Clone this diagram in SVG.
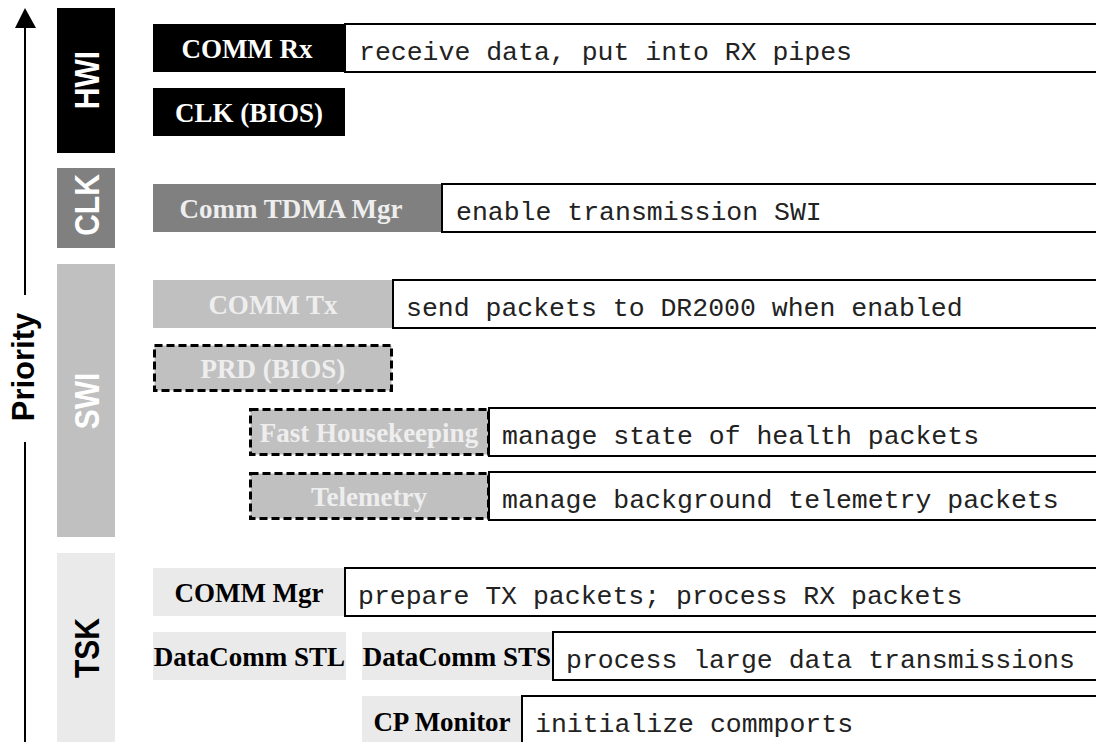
<svg xmlns="http://www.w3.org/2000/svg" width="1096" height="742" viewBox="0 0 1096 742">
  <style>
    .band-label { font-family: "Liberation Sans", Arial, sans-serif; font-weight: bold; font-size: 30px; text-anchor: middle; }
    .axis-label { font-family: "Liberation Sans", Arial, sans-serif; font-weight: bold; font-size: 31px; text-anchor: middle; fill: #000; }
    .task { font-family: "Liberation Serif", "Times New Roman", serif; font-weight: bold; font-size: 27px; text-anchor: middle; }
    .desc-box { fill: #fff; stroke: #000; stroke-width: 2; }
    .desc { font-family: "Liberation Mono", "Courier New", monospace; font-size: 26.5px; fill: #222; }
    .hwi { fill: #000; }
    .clk { fill: #808080; }
    .swi { fill: #c0c0c0; }
    .tsk { fill: #eaeaea; }
    .periodic { stroke: #000; stroke-width: 3; stroke-dasharray: 8 4; }
    .light { fill: #ffffff; }
    .pale { fill: #eeeeee; }
    .dark { fill: #000; }
  </style>

  <rect width="1096" height="742" fill="#fff"/>

  <!-- priority axis -->
  <g id="connectors">
    <line x1="25" y1="26" x2="25" y2="295" stroke="#000" stroke-width="2"/>
    <line x1="25" y1="442" x2="25" y2="742" stroke="#000" stroke-width="2"/>
    <polygon points="25,8 15,28 36,28" fill="#000"/>
    <text class="axis-label" transform="translate(34,367) rotate(-90)">Priority</text>
  </g>

  <!-- priority bands -->
  <g id="band-hwi">
    <rect x="57" y="8" width="58" height="145" class="hwi"/>
    <text class="band-label light" transform="translate(99,80) rotate(-90) scale(1,1.16)">HWI</text>
  </g>
  <g id="band-clk">
    <rect x="57" y="168" width="58" height="80" class="clk"/>
    <text class="band-label light" transform="translate(99,205) rotate(-90) scale(1,1.16)">CLK</text>
  </g>
  <g id="band-swi">
    <rect x="57" y="264" width="58" height="273" class="swi"/>
    <text class="band-label light" transform="translate(99,401) rotate(-90) scale(1,1.16)">SWI</text>
  </g>
  <g id="band-tsk">
    <rect x="57" y="553" width="58" height="189" class="tsk"/>
    <text class="band-label dark" transform="translate(99,648) rotate(-90) scale(1,1.16)">TSK</text>
  </g>

  <!-- HWI -->
  <g id="comm-rx">
    <rect x="153" y="24" width="192" height="48" class="hwi"/>
    <text x="247" y="58" class="task light">COMM Rx</text>
    <rect x="345" y="24" width="760" height="48" class="desc-box"/>
    <text x="359" y="59.5" class="desc">receive data, put into RX pipes</text>
  </g>
  <g id="clk-bios">
    <rect x="153" y="88" width="192" height="48" class="hwi"/>
    <text x="249" y="122" class="task light">CLK (BIOS)</text>
  </g>

  <!-- CLK -->
  <g id="comm-tdma-mgr">
    <rect x="153" y="184" width="289" height="48" class="clk"/>
    <text x="291" y="218" class="task pale">Comm TDMA Mgr</text>
    <rect x="442" y="184" width="660" height="48" class="desc-box"/>
    <text x="456" y="219.5" class="desc">enable transmission SWI</text>
  </g>

  <!-- SWI -->
  <g id="comm-tx">
    <rect x="153" y="280" width="240" height="48" class="swi"/>
    <text x="273" y="313.5" class="task pale">COMM Tx</text>
    <rect x="393" y="280" width="710" height="48" class="desc-box"/>
    <text x="406" y="315.5" class="desc">send packets to DR2000 when enabled</text>
  </g>
  <g id="prd-bios">
    <rect x="154.5" y="345.5" width="237" height="45" class="swi periodic"/>
    <text x="273" y="378" class="task pale">PRD (BIOS)</text>
  </g>
  <g id="fast-housekeeping">
    <rect x="250.5" y="409.5" width="238" height="45" class="swi periodic"/>
    <text x="369" y="441.5" class="task pale">Fast Housekeeping</text>
    <rect x="489" y="408" width="615" height="48" class="desc-box"/>
    <text x="502" y="443.5" class="desc">manage state of health packets</text>
  </g>
  <g id="telemetry">
    <rect x="250.5" y="473.5" width="238" height="45" class="swi periodic"/>
    <text x="369" y="505.5" class="task pale">Telemetry</text>
    <rect x="489" y="472" width="615" height="48" class="desc-box"/>
    <text x="502" y="507.5" class="desc">manage background telemetry packets</text>
  </g>

  <!-- TSK -->
  <g id="comm-mgr">
    <rect x="153" y="568" width="192" height="48" class="tsk"/>
    <text x="249" y="601.5" class="task dark">COMM Mgr</text>
    <rect x="345" y="568" width="760" height="48" class="desc-box"/>
    <text x="358" y="603.5" class="desc">prepare TX packets; process RX packets</text>
  </g>
  <g id="datacomm-stl">
    <rect x="153" y="632" width="193" height="48" class="tsk"/>
    <text x="249.5" y="665.5" class="task dark">DataComm STL</text>
  </g>
  <g id="datacomm-sts">
    <rect x="362" y="632" width="191" height="48" class="tsk"/>
    <text x="457" y="665.5" class="task dark">DataComm STS</text>
    <rect x="553" y="632" width="550" height="48" class="desc-box"/>
    <text x="566" y="667.5" class="desc">process large data transmissions</text>
  </g>
  <g id="cp-monitor">
    <rect x="362" y="696" width="160" height="48" class="tsk"/>
    <text x="442" y="730.5" class="task dark">CP Monitor</text>
    <rect x="522" y="696" width="580" height="60" class="desc-box"/>
    <text x="535" y="731.5" class="desc">initialize commports</text>
  </g>
</svg>
